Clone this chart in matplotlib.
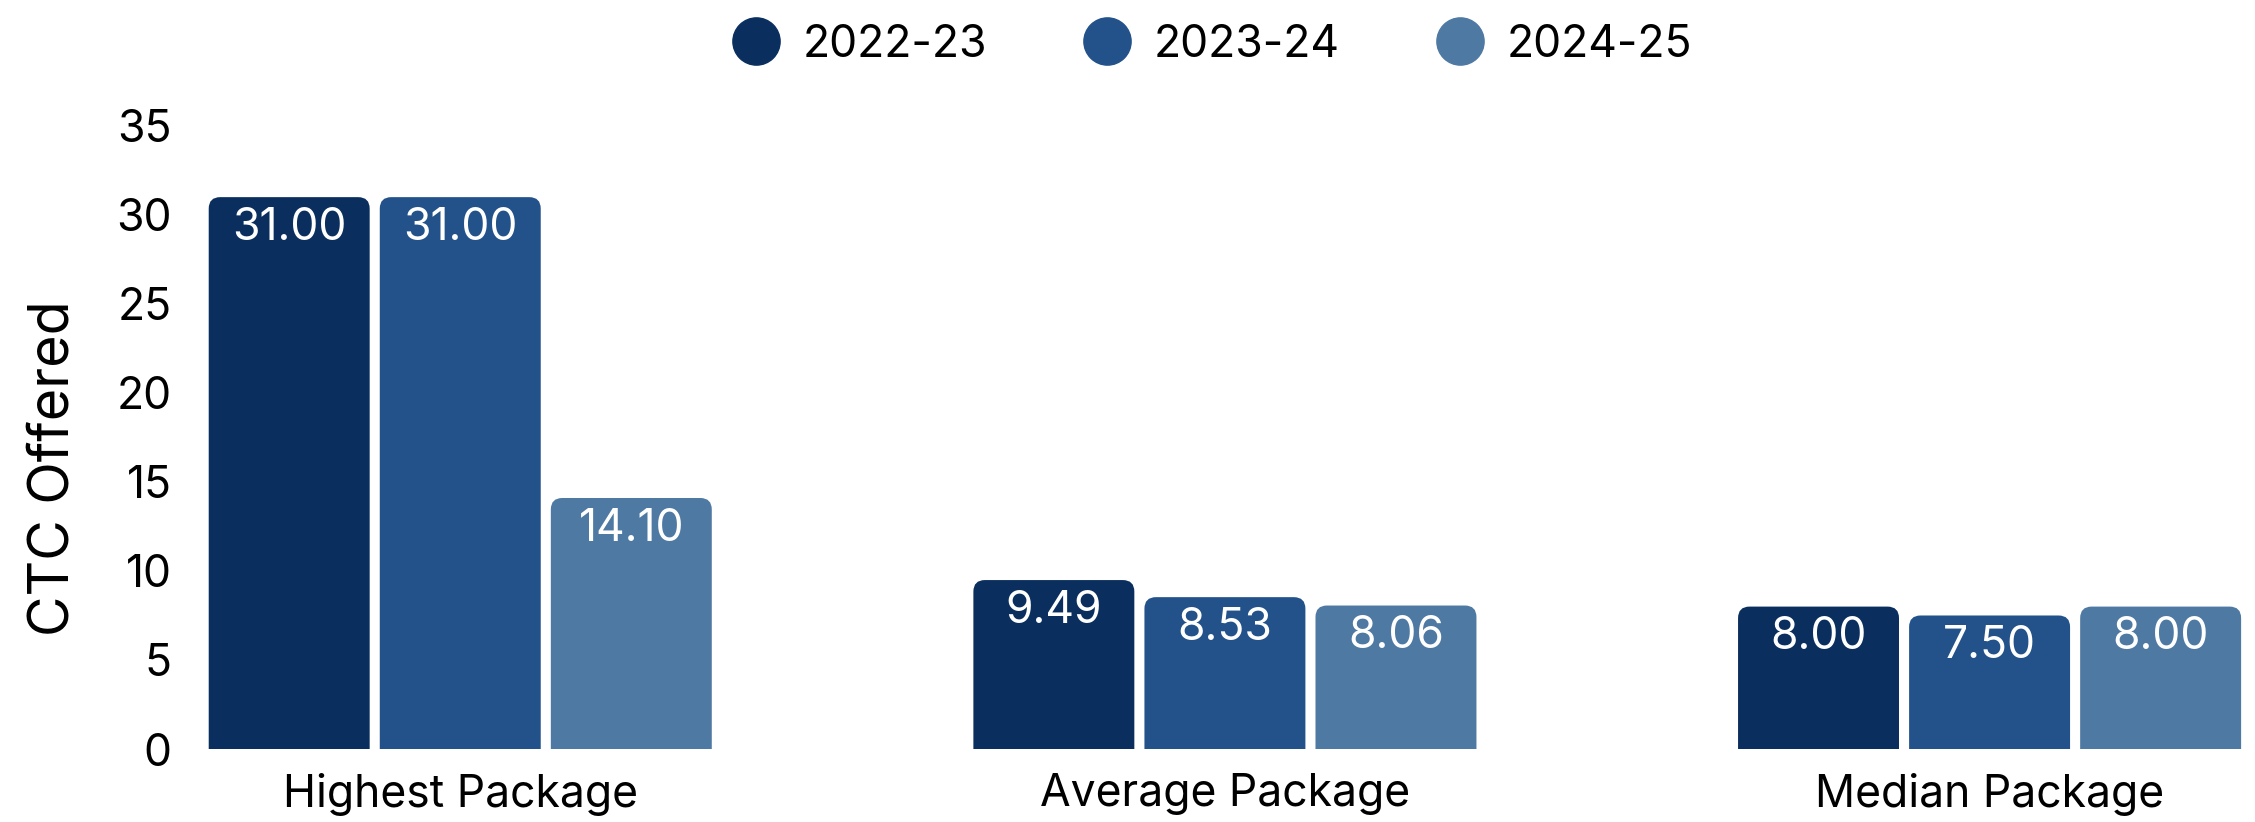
import matplotlib
matplotlib.use("Agg")
import matplotlib.pyplot as plt
from matplotlib.patches import FancyBboxPatch
from matplotlib.lines import Line2D
import numpy as np

categories = ["Highest Package", "Average Package", "Median Package"]
years = ["2022-23", "2023-24", "2024-25"]
values = {
    "2022-23": [31.00, 9.49, 8.00],
    "2023-24": [31.00, 8.53, 7.50],
    "2024-25": [14.10, 8.06, 8.00],
}
colors = ["#0A2F5E", "#225289", "#4E79A3"]

plt.rcParams["font.family"] = ["Inter", "DejaVu Sans"]


def main():
    fig = plt.figure(figsize=(22.55, 8.22), dpi=100)
    ax = fig.add_axes([0.0922, 0.0888, 0.902, 0.758])

    x = np.arange(len(categories))
    step = 0.2237
    width = 0.2105

    ax.set_xlim(-0.33, 2.33)
    ax.set_ylim(0, 35)

    # aspect between y and x data units per pixel, for the rounded corners
    bb = ax.get_window_extent()
    aspect = (35 / bb.height) / (2.66 / bb.width)
    r = 0.015

    for ii, yr in enumerate(years):
        xs = x + (ii - 1) * step
        bars = ax.bar(xs, values[yr], width, color=colors[ii], alpha=0)
        for b, v in zip(bars, values[yr]):
            patch = FancyBboxPatch(
                (b.get_x(), -2), b.get_width(), v + 2,
                boxstyle="round,pad=0,rounding_size={}".format(r),
                mutation_aspect=aspect,
                facecolor=colors[ii], edgecolor="none",
            )
            ax.add_patch(patch)
            ax.annotate("{:.2f}".format(v), (b.get_x() + b.get_width() / 2, v),
                        xytext=(0, -7), textcoords="offset points",
                        ha="center", va="top", color="white", fontsize=32)

    ax.set_xticks(x)
    ax.set_xticklabels(categories, fontsize=32)
    ax.set_yticks(range(0, 36, 5))
    ax.tick_params(axis="y", labelsize=32, length=0, pad=26)
    ax.tick_params(axis="x", length=0, pad=17)
    for s in ax.spines.values():
        s.set_visible(False)

    ax.set_ylabel("CTC Offered", fontsize=40)
    ax.yaxis.set_label_coords(-0.063, 0.45)

    handles = [Line2D([], [], marker="o", linestyle="none", markersize=34,
                      markerfacecolor=c, markeredgecolor=c) for c in colors]
    fig.legend(handles, years, loc="upper center", bbox_to_anchor=(0.533, 1.02),
               ncol=3, frameon=False, fontsize=32, handletextpad=0.05,
               columnspacing=1.7)

    fig.savefig("out.png", dpi=100)


if __name__ == "__main__":
    main()
